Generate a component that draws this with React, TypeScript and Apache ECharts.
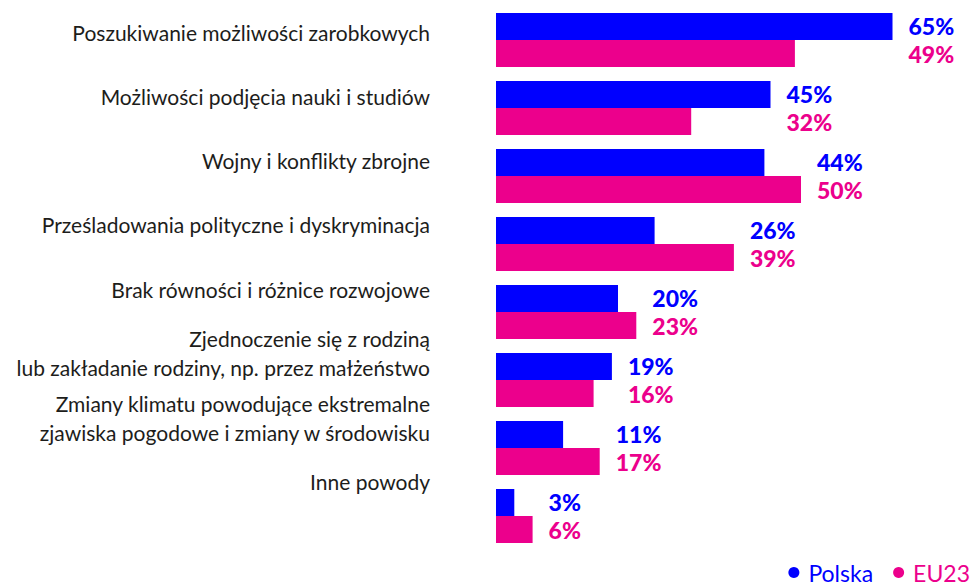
import React, { useEffect, useRef } from "react";
import * as echarts from "echarts";

const categories = [
  "Poszukiwanie możliwości zarobkowych",
  "Możliwości podjęcia nauki i studiów",
  "Wojny i konflikty zbrojne",
  "Prześladowania polityczne i dyskryminacja",
  "Brak równości i różnice rozwojowe",
  "Zjednoczenie się z rodziną\nlub zakładanie rodziny, np. przez małżeństwo",
  "Zmiany klimatu powodujące ekstremalne\nzjawiska pogodowe i zmiany w środowisku",
  "Inne powody",
];
const polska = [65, 45, 44, 26, 20, 19, 11, 3];
const eu23 = [49, 32, 50, 39, 23, 16, 17, 6];
const seriesNames = ["Polska", "EU23"];

const BLUE = "#0000FF";
const PINK = "#EC008C";
const FONT = "Lato";

export default function App() {
  const ref = useRef<HTMLDivElement>(null);
  useEffect(() => {
    if (!ref.current) return;
    const chart = echarts.init(ref.current, undefined, { renderer: "svg" });
    const labelPoints = categories.map((c, i) => ({
      value: [Math.max(polska[i], eu23[i]), c],
      p: polska[i],
      e: eu23[i],
    }));
    chart.setOption({
      animation: false,
      backgroundColor: "#ffffff",
      textStyle: { fontFamily: FONT },
      legend: {
        data: [
          { name: seriesNames[0], textStyle: { color: BLUE } },
          { name: seriesNames[1], textStyle: { color: PINK } },
        ],
        icon: "circle",
        itemWidth: 11,
        itemHeight: 11,
        itemGap: 20,
        right: 2,
        top: 561,
        padding: 0,
        textStyle: { fontFamily: FONT, fontSize: 23, padding: [0, 0, 0, 4] },
        selectedMode: false,
      },
      grid: [
        { left: 496, width: 427, top: 6, height: 544 },
        { left: 496, width: 427, top: 0, height: 514 },
      ],
      xAxis: [
        { type: "value", gridIndex: 0, min: 0, max: 70, show: false },
        { type: "value", gridIndex: 1, min: 0, max: 70, show: false },
      ],
      yAxis: [
        {
          type: "category",
          gridIndex: 0,
          data: categories,
          inverse: true,
          show: false,
        },
        {
          type: "category",
          gridIndex: 1,
          data: categories,
          inverse: true,
          axisLine: { show: false },
          axisTick: { show: false },
          splitLine: { show: false },
          axisLabel: {
            margin: 66,
            align: "right",
            fontFamily: FONT,
            fontSize: 21,
            lineHeight: 29,
            color: "#1d1d1b",
          },
        },
      ],
      series: [
        {
          name: seriesNames[0],
          type: "bar",
          xAxisIndex: 0,
          yAxisIndex: 0,
          data: polska,
          itemStyle: { color: BLUE },
          barGap: "0%",
          barCategoryGap: "20.6%",
        },
        {
          name: seriesNames[1],
          type: "bar",
          xAxisIndex: 0,
          yAxisIndex: 0,
          data: eu23,
          itemStyle: { color: PINK },
          barGap: "0%",
          barCategoryGap: "20.6%",
        },
        {
          name: "labels",
          type: "scatter",
          xAxisIndex: 0,
          yAxisIndex: 0,
          symbolSize: 0,
          data: labelPoints,
          z: 5,
          itemStyle: { opacity: 1, color: BLUE },
          label: {
            show: true,
            position: "right",
            distance: 16,
            align: "left",
            opacity: 1,
            formatter: (p: any) => `{p|${p.data.p}%}\n{e|${p.data.e}%}`,
            rich: {
              p: { color: BLUE, fontFamily: FONT, fontSize: 23, fontWeight: 900, lineHeight: 28 },
              e: { color: PINK, fontFamily: FONT, fontSize: 23, fontWeight: 900, lineHeight: 28 },
            },
          },
        },
      ],
    });
    return () => chart.dispose();
  }, []);
  return (
    <div
      ref={ref}
      style={{ position: "fixed", left: 0, top: 0, width: 972, height: 586 }}
    />
  );
}
